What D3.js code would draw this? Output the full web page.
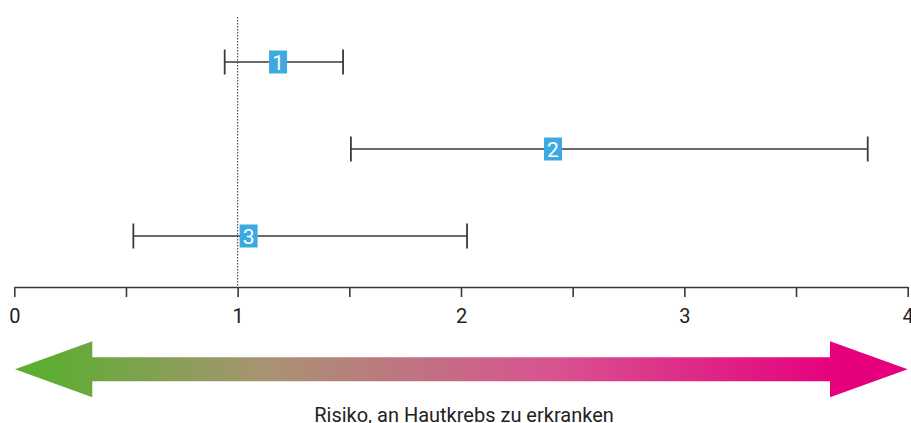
<!DOCTYPE html>
<html><head><meta charset="utf-8">
<script src="https://cdn.jsdelivr.net/npm/d3@7"></script>
<style>html,body{margin:0;padding:0;background:#fff;}svg{display:block;}</style>
</head><body>
<svg id="c" width="911" height="423"></svg>
<script>
const studies = ["1", "2", "3"];
const estimates = [1.181, 2.412, 1.049];
const lower = [0.942, 1.507, 0.533];
const upper = [1.472, 3.821, 2.027];
const tickValues = [0, 0.5, 1, 1.5, 2, 2.5, 3, 3.5, 4];
const tickLabels = ["0", "", "1", "", "2", "", "3", "", "4"];
const refValue = 1;
const axisTitle = "Risiko, an Hautkrebs zu erkranken";

const svg = d3.select("#c");
const x = d3.scaleLinear().domain([0, 4]).range([14.3, 907.7]);
const y = d3.scalePoint().domain(studies).range([62, 236]);
const axisY = 287;
const font = "Roboto, 'Noto Sans', sans-serif";
const lineCol = "#3a3a3a";

// reference line
svg.append("line")
  .attr("x1", x(refValue)).attr("x2", x(refValue))
  .attr("y1", 17).attr("y2", axisY)
  .attr("stroke", "#333").attr("stroke-width", 1)
  .attr("stroke-dasharray", "1.5,1.5");

// axis
const axis = d3.axisBottom(x).tickValues(tickValues)
  .tickFormat((d, i) => tickLabels[i]).tickSizeInner(10).tickSizeOuter(0).tickPadding(5);
const gAx = svg.append("g").attr("transform", `translate(0,${axisY})`).call(axis);
gAx.attr("font-size", null).attr("font-family", null);
gAx.select(".domain").attr("stroke", lineCol).attr("stroke-width", 1.6);
gAx.selectAll(".tick line").attr("stroke", lineCol).attr("stroke-width", 1.6);
gAx.selectAll(".tick text").attr("dy", null).attr("y", 35.5)
  .style("font-family", font).style("font-size", "20px").attr("fill", "#222");

// error bars
const rows = studies.map((s, i) => ({s, est: estimates[i], lo: lower[i], hi: upper[i]}));
const g = svg.append("g");
g.selectAll("line.ci").data(rows).join("line").attr("class", "ci")
  .attr("x1", d => x(d.lo)).attr("x2", d => x(d.hi))
  .attr("y1", d => y(d.s)).attr("y2", d => y(d.s))
  .attr("stroke", lineCol).attr("stroke-width", 1.6);
["lo", "hi"].forEach(k => {
  g.selectAll("line.cap" + k).data(rows).join("line").attr("class", "cap" + k)
    .attr("x1", d => x(d[k])).attr("x2", d => x(d[k]))
    .attr("y1", d => y(d.s) - 12.5).attr("y2", d => y(d.s) + 12.5)
    .attr("stroke", lineCol).attr("stroke-width", 1.8);
});
g.selectAll("rect.box").data(rows).join("rect").attr("class", "box")
  .attr("x", d => x(d.est) - 9).attr("y", d => y(d.s) - 11.5)
  .attr("width", 18).attr("height", 23).attr("fill", "#3ca9e1");
g.selectAll("text.lab").data(rows).join("text").attr("class", "lab")
  .attr("x", d => x(d.est)).attr("y", d => y(d.s) + 7.5)
  .attr("text-anchor", "middle").style("font-family", font).style("font-size", "21px")
  .attr("fill", "#fff").text(d => d.s);

// gradient arrow
const defs = svg.append("defs");
const grad = defs.append("linearGradient").attr("id", "ag")
  .attr("gradientUnits", "userSpaceOnUse")
  .attr("x1", x(0)).attr("x2", x(4)).attr("y1", 0).attr("y2", 0);
grad.append("stop").attr("offset", "0.03").attr("stop-color", "#5bae30");
grad.append("stop").attr("offset", "0.28").attr("stop-color", "#a89472");
grad.append("stop").attr("offset", "0.6").attr("stop-color", "#d75490");
grad.append("stop").attr("offset", "0.92").attr("stop-color", "#e6007e");

const ay = 369.3, headH = 28, shaftH = 12;
const x0 = x(0) + 0.7, x1 = x(4), hb0 = 92.3, hb1 = 830;
const p = d3.path();
p.moveTo(x0, ay);
p.lineTo(hb0, ay - headH);
p.lineTo(hb0, ay - shaftH);
p.lineTo(hb1, ay - shaftH);
p.lineTo(hb1, ay - headH);
p.lineTo(x1, ay);
p.lineTo(hb1, ay + headH);
p.lineTo(hb1, ay + shaftH);
p.lineTo(hb0, ay + shaftH);
p.lineTo(hb0, ay + headH);
p.closePath();
svg.append("path").attr("d", p.toString()).attr("fill", "url(#ag)");

svg.append("text").attr("x", 464).attr("y", 421.5)
  .attr("text-anchor", "middle").style("font-family", font).style("font-size", "20px")
  .attr("fill", "#222").text(axisTitle);
</script>
</body></html>
